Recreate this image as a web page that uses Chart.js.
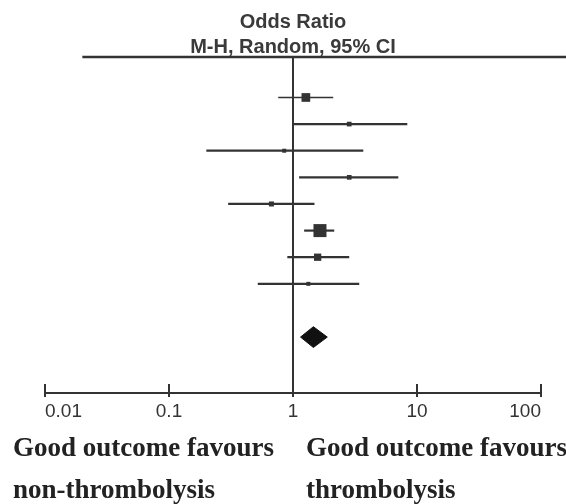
<!DOCTYPE html>
<html>
<head>
<meta charset="utf-8">
<script src="https://cdn.jsdelivr.net/npm/chart.js@4"></script>
<style>
  html, body { margin: 0; padding: 0; background: #fff; }
  canvas { display: block; }
</style>
</head>
<body>
<canvas id="forest" width="566" height="504"></canvas>
<script>
// Study rows, top to bottom (odds ratio and 95% CI)
const studyOR = [1.27, 2.84, 0.85, 2.84, 0.67, 1.65, 1.58, 1.33];
const studyLow = [0.76, 1.0, 0.2, 1.12, 0.3, 1.23, 0.9, 0.52];
const studyHigh = [2.11, 8.35, 3.69, 7.07, 1.49, 2.15, 2.84, 3.42];
const studyWeight = [19.0, 5.5, 4.0, 5.5, 6.3, 42.4, 13.3, 4.0];

// Pooled estimate (diamond)
const pooledOR = 1.46;
const pooledLow = 1.15;
const pooledHigh = 1.89;

const tickValues = [0.01, 0.1, 1, 10, 100];
const tickLabels = ["0.01", "0.1", "1", "10", "100"];

const headerLines = ["Odds Ratio", "M-H, Random, 95% CI"];
const favourLeft = ["Good outcome favours", "non-thrombolysis"];
const favourRight = ["Good outcome favours", "thrombolysis"];

const INK = "#333";
const ROW_TOP = -0.52;
const ROW_BOTTOM = 12.1;
const POOLED_ROW = 10;
const DIAMOND_HALF = 0.39;
const HEADER_RULE_FROM = 0.02;

/**
 * Extra drawing: reference line, header rule, inner ticks, favour labels
 */
const forestExtras = {
  id: "forestExtras",
  beforeDatasetsDraw(chart) {
    const { ctx, chartArea, scales } = chart;
    const x1 = scales.x.getPixelForValue(1);
    ctx.save();
    ctx.strokeStyle = INK;
    ctx.lineWidth = 2;
    ctx.beginPath();
    ctx.moveTo(x1, chartArea.top);
    ctx.lineTo(x1, chartArea.bottom);
    ctx.stroke();

    // header rule
    ctx.lineWidth = 2.5;
    ctx.beginPath();
    ctx.moveTo(scales.x.getPixelForValue(HEADER_RULE_FROM), chartArea.top);
    ctx.lineTo(chart.width, chartArea.top);
    ctx.stroke();

    // upper part of the tick marks
    ctx.lineWidth = 2;
    scales.x.ticks.forEach((t) => {
      const px = scales.x.getPixelForValue(t.value);
      ctx.beginPath();
      ctx.moveTo(px, chartArea.bottom - 9);
      ctx.lineTo(px, chartArea.bottom);
      ctx.stroke();
    });
    ctx.restore();
  },
  afterDraw(chart) {
    const { ctx } = chart;
    ctx.save();
    ctx.fillStyle = "#222";
    ctx.font = "bold 27px 'Liberation Serif', 'Times New Roman', serif";
    ctx.textBaseline = "alphabetic";
    ctx.textAlign = "left";
    favourLeft.forEach((s, i) => ctx.fillText(s, 13, 456 + i * 42));
    favourRight.forEach((s, i) => ctx.fillText(s, 306, 456 + i * 42));
    ctx.restore();
  },
};

// CI whiskers, one dataset per study
const ciSets = studyOR.map((_, i) => ({
  data: [
    { x: studyLow[i], y: i + 1 },
    { x: studyHigh[i], y: i + 1 },
  ],
  showLine: true,
  borderColor: INK,
  borderWidth: i === 0 ? 1.5 : 2.2,
  pointRadius: 0,
}));

const weightScale = 13 / Math.sqrt(42.4);

const datasets = [
  ...ciSets,
  {
    data: studyOR.map((v, i) => ({ x: v, y: i + 1 })),
    pointStyle: "rect",
    pointRadius: studyWeight.map((w) => (Math.sqrt(w) * weightScale) / Math.SQRT2),
    backgroundColor: INK,
    borderWidth: 0,
  },
  {
    data: [
      { x: pooledLow, y: POOLED_ROW },
      { x: pooledOR, y: POOLED_ROW - DIAMOND_HALF },
      { x: pooledHigh, y: POOLED_ROW },
      { x: pooledOR, y: POOLED_ROW + DIAMOND_HALF },
      { x: pooledLow, y: POOLED_ROW },
    ],
    showLine: true,
    fill: "shape",
    backgroundColor: "#111",
    borderColor: "#111",
    borderWidth: 1,
    pointRadius: 0,
    tension: 0,
  },
];

new Chart(document.getElementById("forest"), {
  type: "scatter",
  data: { datasets },
  plugins: [forestExtras],
  options: {
    responsive: false,
    animation: false,
    events: [],
    layout: { padding: { left: 45, right: 25, top: 0, bottom: 0 } },
    plugins: {
      legend: { display: false },
      tooltip: { enabled: false },
      title: {
        display: true,
        text: headerLines[0],
        color: "#3a3a3a",
        font: { family: "'Liberation Sans', Arial, sans-serif", size: 20, weight: "bold", lineHeight: 1.2 },
        padding: { top: 10, bottom: 0 },
      },
      subtitle: {
        display: true,
        text: headerLines[1],
        color: "#3a3a3a",
        font: { family: "'Liberation Sans', Arial, sans-serif", size: 20, weight: "bold", lineHeight: 1.0 },
        padding: { top: 3, bottom: 0 },
      },
    },
    scales: {
      x: {
        type: "logarithmic",
        position: "bottom",
        min: 0.01,
        max: 100,
        afterBuildTicks: (scale) => {
          scale.ticks = tickValues.map((v) => ({ value: v }));
        },
        afterFit: (scale) => {
          scale.height = 111;
        },
        border: { display: true, color: INK, width: 2 },
        grid: { drawOnChartArea: false, drawTicks: true, tickLength: 4, color: INK, lineWidth: 2 },
        ticks: {
          align: "inner",
          padding: 3,
          color: INK,
          font: { family: "'Liberation Sans', Arial, sans-serif", size: 19 },
          callback: (value) => tickLabels[tickValues.indexOf(value)],
        },
      },
      y: {
        display: false,
        reverse: true,
        min: ROW_TOP,
        max: ROW_BOTTOM,
      },
    },
  },
});
</script>
</body>
</html>
